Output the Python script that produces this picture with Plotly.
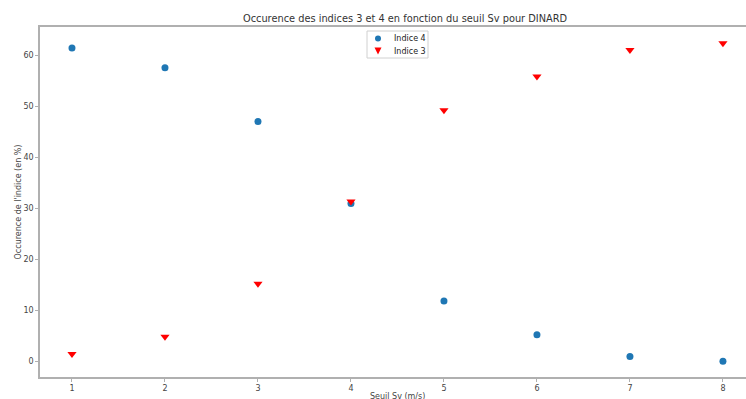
import plotly.graph_objects as go

seuils = [1, 2, 3, 4, 5, 6, 7, 8]
indice4 = [61.4, 57.5, 47.0, 30.9, 11.8, 5.2, 0.9, 0.0]
indice3 = [1.4, 4.8, 15.2, 31.3, 49.2, 55.8, 61.0, 62.3]
xticks = [1, 2, 3, 4, 5, 6, 7, 8]
yticks = [0, 10, 20, 30, 40, 50, 60]

W, H = 746, 399
ML, MR, MT, MB = 40, 0, 27, 22
PW, PH = W - ML - MR, H - MT - MB

def px(xp):
    return (xp - ML) / PW

def py(yp):
    return (MT + PH - yp) / PH

font = "DejaVu Sans"
BLUE, RED = "#1f77b4", "red"
fig = go.Figure()
fig.add_trace(go.Scatter(x=seuils, y=indice4, mode="markers", name="Indice 4",
                         marker=dict(symbol="circle", size=7, color=BLUE)))
fig.add_trace(go.Scatter(x=seuils, y=indice3, mode="markers", name="Indice 3",
                         marker=dict(symbol="triangle-down", size=8, color=RED)))

axis_common = dict(showgrid=False, zeroline=False, showline=True, linecolor="#b0b0b0",
                   linewidth=1.5, ticks="outside", ticklen=3, tickcolor="#b0b0b0",
                   tickfont=dict(family=font, size=8, color="#444"))
fig.update_layout(
    width=W, height=H,
    margin=dict(l=ML, r=MR, t=MT, b=MB),
    paper_bgcolor="white", plot_bgcolor="white",
    title=dict(text="Occurence des indices 3 et 4 en fonction du seuil Sv pour DINARD",
               x=405 / W, xanchor="center", y=1 - 19 / H, yanchor="middle",
               font=dict(family=font, size=9.8, color="#333")),
    xaxis=dict(range=[0.656, 8.248], tickvals=xticks, mirror=True, **axis_common),
    yaxis=dict(range=[-3.1, 65.5], tickvals=yticks, mirror=False,
               title=dict(text="Occurence de l'indice (en %)", standoff=0,
                          font=dict(family=font, size=8, color="#444")),
               **axis_common),
    showlegend=False,
)

# custom compact legend (matplotlib-style)
fig.add_shape(type="rect", xref="paper", yref="paper",
              x0=px(367), x1=px(428), y0=py(58), y1=py(31),
              line=dict(color="#d0d0d0", width=1), fillcolor="white")
fig.add_shape(type="circle", xref="paper", yref="paper",
              x0=px(375), x1=px(381), y0=py(41.5), y1=py(35.5),
              line=dict(width=0), fillcolor=BLUE)
fig.add_shape(type="path", xref="paper", yref="paper",
              path=f"M {px(374.5)} {py(47.5)} L {px(381.5)} {py(47.5)} L {px(378)} {py(54.5)} Z",
              line=dict(width=0), fillcolor=RED)
for label, yp in [("Indice 4", 38.5), ("Indice 3", 51)]:
    fig.add_annotation(text=label, xref="paper", yref="paper", x=px(392), y=py(yp),
                       xanchor="left", yanchor="middle", showarrow=False,
                       font=dict(family=font, size=8, color="#222"))

fig.add_annotation(text="Seuil Sv (m/s)", xref="paper", yref="paper",
                   x=px(397), y=py(396), xanchor="center", yanchor="middle", showarrow=False,
                   font=dict(family=font, size=8, color="#444"))
fig.write_html("out.html")
